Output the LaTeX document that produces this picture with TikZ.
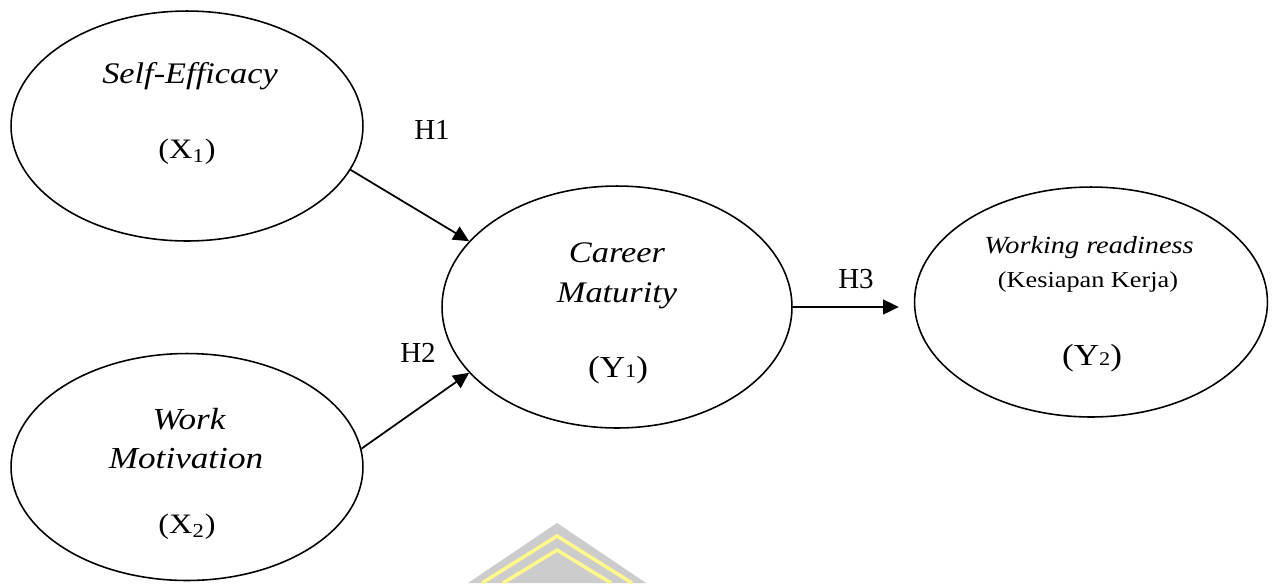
\documentclass[tikz,border=0pt]{standalone}
\usepackage{fontspec}
\setmainfont{Liberation Serif}
\newfontfamily\widefont[FakeStretch=1.15]{Liberation Serif}
\usepackage{tikz}
\usetikzlibrary{arrows.meta, positioning, shapes.geometric}

\begin{document}
\begin{tikzpicture}[x=0.02cm, y=-0.02cm,
    latent/.style={draw, ellipse, line width=0.9pt, inner sep=0pt},
    vname/.style={anchor=base, font=\widefont\fontsize{17}{19}\selectfont\itshape},
    vsmall/.style={anchor=base, font=\widefont\fontsize{13}{15}\selectfont},
    vcode/.style={anchor=base, font=\widefont\fontsize{17.4}{19}\selectfont},
    hyp/.style={anchor=base, font=\fontsize{16.5}{18}\selectfont},
    hpath/.style={-{Triangle[length=9pt, width=8.5pt]}, line width=1pt},]

\useasboundingbox (0,0) rectangle (1276,583);

% watermark behind the model
\fill[gray!40] (557,523) -- (468,583) -- (646,583) -- cycle;
\draw[yellow!45, line width=2pt] (482,583) -- (557,536) -- (632,583);
\draw[yellow!45, line width=2pt] (503,583) -- (557,550) -- (611,583);

% exogenous variables
\node[latent, minimum width=7.04cm, minimum height=4.6cm] (se) at (187,126) {};
\node[vname] (se-name) at (190,83) {Self-Efficacy};
\node[vcode, font=\widefont\fontsize{16}{18}\selectfont] (se-code) at (187,158) {(X\textsubscript{1})};

\node[latent, minimum width=7.04cm, minimum height=4.54cm] (wm) at (187,467) {};
\node[vname, font=\widefont\fontsize{17.4}{19}\selectfont\itshape] (wm-name1) at (189,429) {Work};
\node[vname, font=\widefont\fontsize{17.4}{19}\selectfont\itshape] (wm-name2) at (186,468) {Motivation};
\node[vcode, font=\widefont\fontsize{16}{18}\selectfont] (wm-code) at (187,533) {(X\textsubscript{2})};

% mediating variable
\node[latent, minimum width=7.0cm, minimum height=4.84cm] (cm) at (617,307) {};
\node[vname] (cm-name1) at (617,262) {Career};
\node[vname] (cm-name2) at (617,302) {Maturity};
\node[vcode] (cm-code) at (618,377) {(Y{\fontsize{11}{12}\selectfont 1})};

% endogenous variable
\node[latent, minimum width=7.06cm, minimum height=4.6cm] (wr) at (1091,302) {};
\node[vsmall, font=\widefont\fontsize{14}{16}\selectfont\itshape] (wr-name) at (1089,253) {Working readiness};
\node[vsmall] (wr-sub) at (1088,287) {(Kesiapan Kerja)};
\node[vcode] (wr-code) at (1092,365) {(Y{\fontsize{11}{12}\selectfont 2})};

% hypotheses
\draw[hpath] (se.-15) -- (cm.156);
\draw[hpath] (wm.6) -- (cm.204);
\draw[hpath, shorten >=8.5pt] (cm.east) -- (cm.east -| wr.west);

\node[hyp] (h1) at (432,139) {H1};
\node[hyp] (h2) at (418,362) {H2};
\node[hyp] (h3) at (856,288) {H3};

\end{tikzpicture}
\end{document}
